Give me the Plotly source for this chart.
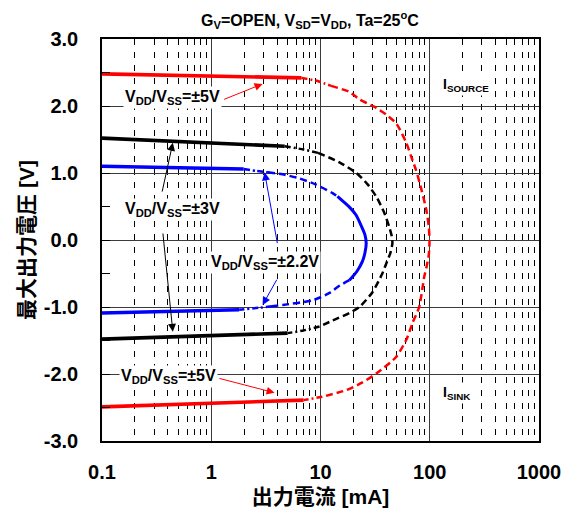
import numpy as np
import plotly.graph_objects as go

# ---------------- data (output current mA, max output voltage V) ----------------
# Each curve traced from the upper-left (source side) around the nose to the lower-left (sink side)
red_x = [0.1, 6.7, 9.5, 12.5, 18.4, 22.7, 31, 40, 49.4, 61, 69.5, 75, 84, 93, 98, 99.5,
         98, 94, 89, 80, 69.5, 61, 49, 32.6, 24, 17.3, 10.4, 7.0, 0.1]
red_y = [2.48, 2.42, 2.37, 2.30, 2.21, 2.10, 1.99, 1.87, 1.74, 1.45, 1.19, 1.04, 0.75, 0.45, 0.2, -0.02,
         -0.22, -0.38, -0.55, -1.0, -1.24, -1.49, -1.75, -1.99, -2.13, -2.24, -2.34, -2.39, -2.49]
# (style, first index, last index)
red_segments = [("solid", 0, 1), ("dashdot", 1, 3), ("dash", 3, 26), ("dashdot", 26, 27), ("solid", 27, 28)]

black_x = [0.1, 4.7, 7.0, 9.5, 14.9, 21.3, 27, 32.6, 38, 42.5, 45, 45.5,
           43.5, 40, 36.8, 29.9, 22.7, 18.4, 13, 9.8, 7.0, 5.0, 0.1]
black_y = [1.52, 1.40, 1.35, 1.30, 1.16, 1.0, 0.83, 0.64, 0.42, 0.2, 0.05, -0.05,
           -0.2, -0.35, -0.5, -0.78, -1.0, -1.09, -1.2, -1.29, -1.35, -1.39, -1.48]
black_segments = [("solid", 0, 1), ("dashdot", 1, 3), ("dash", 3, 19), ("dashdot", 19, 21), ("solid", 21, 22)]

blue_x = [0.1, 1.98, 2.6, 3.3, 4.5, 6.4, 9, 12.9, 14.3, 16.5, 18.4, 21, 23.5, 25.5, 26.2,
          25.6, 24.2, 21.5, 18.4, 15, 12.1, 8.5, 4.5, 3.6, 2.8, 1.8, 0.1]
blue_y = [1.10, 1.06, 1.03, 1.01, 0.98, 0.92, 0.83, 0.70, 0.65, 0.56, 0.49, 0.38, 0.22, 0.08, -0.05,
          -0.18, -0.32, -0.47, -0.6, -0.68, -0.79, -0.9, -0.97, -0.99, -1.01, -1.04, -1.09]
blue_segments = [("solid", 0, 1), ("dashdot", 1, 3), ("dash", 3, 8), ("solid_thin", 8, 18),
                 ("dash", 18, 23), ("dashdot", 23, 25), ("solid", 25, 26)]

x_tickvals = [0.1, 1, 10, 100, 1000]
x_ticktext = ["0.1", "1", "10", "100", "1000"]
y_tickvals = [-3, -2, -1, 0, 1, 2, 3]
y_ticktext = ["-3.0", "-2.0", "-1.0", "0.0", "1.0", "2.0", "3.0"]

label_5v = "V<sub>DD</sub>/V<sub>SS</sub>=±5V"
label_3v = "V<sub>DD</sub>/V<sub>SS</sub>=±3V"
label_22v = "V<sub>DD</sub>/V<sub>SS</sub>=±2.2V"

FONT = "Liberation Sans, Arial, Noto Sans CJK JP, sans-serif"

# the page body adds an 8px margin, so the figure is drawn 8px smaller
W, H = 569, 509

styles = {
    "solid": dict(width=3.6, dash="solid"),
    "solid_thin": dict(width=3.0, dash="solid"),
    "dashdot": dict(width=2.5, dash="6px,3px,2px,3px"),
    "dash": dict(width=2.5, dash="7px,4px"),
}

fig = go.Figure()
for xs, ys, segs, color in [(red_x, red_y, red_segments, "#ff0000"),
                            (black_x, black_y, black_segments, "#000000"),
                            (blue_x, blue_y, blue_segments, "#0000ff")]:
    for style, i0, i1 in segs:
        st = styles[style]
        fig.add_trace(go.Scatter(
            x=xs[i0:i1 + 1], y=ys[i0:i1 + 1], mode="lines",
            line=dict(color=color, width=st["width"], dash=st["dash"], shape="spline", smoothing=0.6),
            showlegend=False, hoverinfo="skip"))

lg = np.log10

# text labels
texts = [
    (label_5v, 0.445, 2.13),
    (label_3v, 0.445, 0.45),
    (label_22v, 3.08, -0.34),
    (label_5v, 0.41, -2.04),
    ("I<sub>SOURCE</sub>", 215, 2.31),
    ("I<sub>SINK</sub>", 174, -2.28),
]
annotations = []
for i, (t, x, y) in enumerate(texts):
    annotations.append(dict(
        text=t, x=lg(x), y=y, xref="x", yref="y", showarrow=False,
        bgcolor="white", borderpad=1,
        font=dict(family=FONT, size=16 if i < 4 else 14, color="black", weight="bold")))

# arrows: (head x, head y, tail x, tail y, color)
arrows = [
    (2.95, 2.33, 1.27, 2.09, "#ff0000"),
    (0.445, 1.45, 0.353, 0.70, "#000000"),
    (0.445, -1.37, 0.36, 0.12, "#000000"),
    (3.08, 1.01, 4.05, -0.07, "#0000ff"),
    (2.95, -0.97, 4.05, -0.57, "#0000ff"),
    (3.8, -2.28, 1.15, -2.06, "#ff0000"),
]
for hx, hy, tx, ty, c in arrows:
    annotations.append(dict(
        text="", x=lg(hx), y=hy, ax=lg(tx), ay=ty, xref="x", yref="y", axref="x", ayref="y",
        showarrow=True, arrowhead=2, arrowsize=1.6, arrowwidth=1, arrowcolor=c, standoff=0))

fig.update_layout(
    width=W, height=H,
    margin=dict(l=94, r=38, t=31, b=76, autoexpand=False),
    paper_bgcolor="white", plot_bgcolor="white",
    font=dict(family=FONT, color="black"),
    title=dict(text="G<sub>V</sub>=OPEN, V<sub>SD</sub>=V<sub>DD</sub>, Ta=25<sup>o</sup>C",
               x=302 / W, xref="container", xanchor="center",
               y=1 - 12 / H, yref="container", yanchor="middle",
               font=dict(family=FONT, size=16, color="black", weight="bold")),
    annotations=annotations,
    showlegend=False,
)

fig.update_xaxes(
    type="log", range=[-1, 3], automargin=False,
    tickvals=x_tickvals, ticktext=x_ticktext,
    tickfont=dict(family=FONT, size=20, weight="bold"),
    ticklabelstandoff=12,
    showgrid=True, gridcolor="#3a3a3a", gridwidth=1,
    minor=dict(dtick="D1", showgrid=True, gridcolor="#000000", griddash="6px,7px", gridwidth=1),
    showline=True, linecolor="black", linewidth=1.5, mirror=True,
    zeroline=False,
    title=dict(text="出力電流 [mA]", font=dict(family=FONT, size=21, weight="bold"), standoff=8),
)
fig.update_yaxes(
    range=[-3, 3], automargin=False,
    tickvals=y_tickvals, ticktext=y_ticktext,
    tickfont=dict(family=FONT, size=20, weight="bold"),
    ticklabelstandoff=18,
    showgrid=True, gridcolor="#3a3a3a", gridwidth=1,
    minor=dict(dtick=0.5, ticks="inside", ticklen=8, tickcolor="black", showgrid=False),
    ticks="inside", ticklen=8, tickcolor="black",
    showline=True, linecolor="black", linewidth=1.5, mirror=True,
    zeroline=False,
    title=dict(text="最大出力電圧 [V]", font=dict(family=FONT, size=21, weight="bold"), standoff=3),
)

fig.write_html("out.html")
